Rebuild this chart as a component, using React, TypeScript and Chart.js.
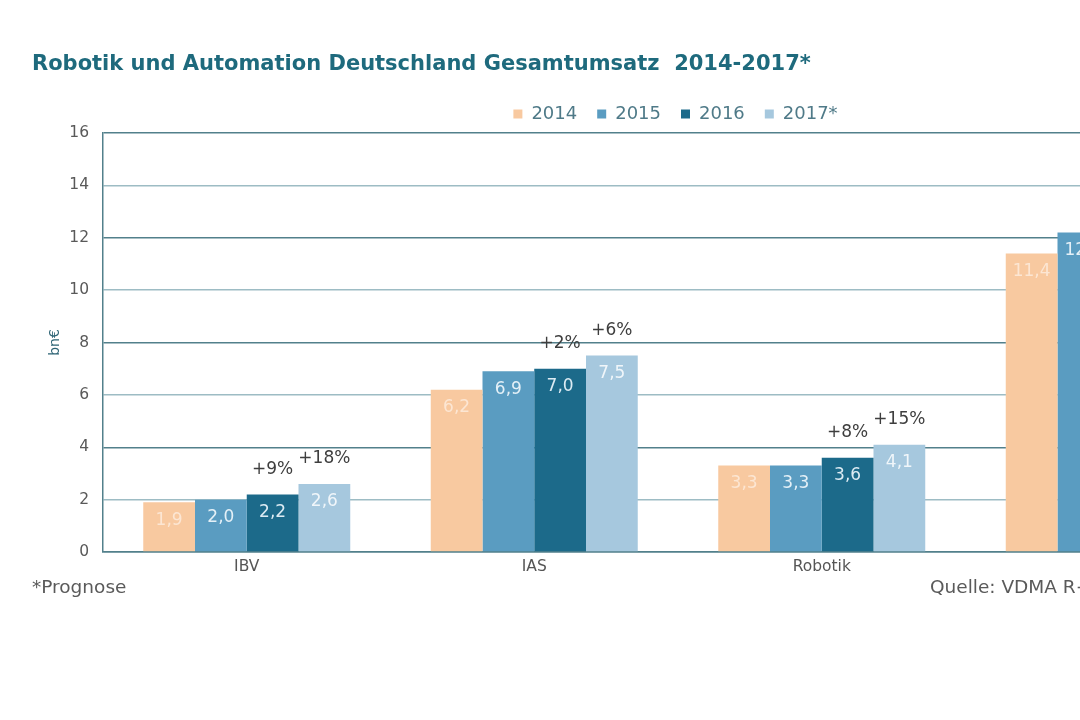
import React, { useEffect, useRef } from 'react';
import { Chart, registerables } from 'chart.js';

Chart.register(...registerables);

// ---- data ----
const categories = ['IBV', 'IAS', 'Robotik', 'R+A'];
const seriesNames = ['2014', '2015', '2016', '2017*'];
const values2014 = [1.9, 6.2, 3.3, 11.4];
const values2015 = [2.0, 6.9, 3.3, 12.2];
const values2016 = [2.2, 7.0, 3.6, 12.8];
const values2017 = [2.6, 7.5, 4.1, 14.2];
const growth2016 = ['+9%', '+2%', '+8%', '+5%'];
const growth2017 = ['+18%', '+6%', '+15%', '+11%'];
const yMin = 0;
const yMax = 16;
const yStep = 2;
const titleText = 'Robotik und Automation Deutschland Gesamtumsatz  2014-2017*';
const yAxisTitle = 'bn€';
const footnoteLeft = '*Prognose';
const footnoteRight = 'Quelle: VDMA R+A';

// ---- styles ----
const FONT = '"DejaVu Sans", Verdana, sans-serif';
const barColors = ['#F8C9A0', '#5A9CC1', '#1C6A8A', '#A6C8DE'];
const valueLabelColors = ['#FCE6D3', '#E4F0F7', '#DCEBF3', '#F0F6FA'];
const gridDark = '#52808B';
const gridLight = '#9DBCC4';

const labelPlugin = {
  id: 'barLabels',
  afterDatasetsDraw(chart: any) {
    const ctx = chart.ctx;
    ctx.save();
    ctx.textAlign = 'center';
    ctx.textBaseline = 'middle';
    ctx.font = `17px ${FONT}`;
    chart.data.datasets.forEach((ds: any, di: number) => {
      const meta = chart.getDatasetMeta(di);
      meta.data.forEach((bar: any, i: number) => {
        const v = ds.data[i] as number;
        ctx.fillStyle = valueLabelColors[di];
        ctx.fillText(v.toFixed(1).replace('.', ','), bar.x, bar.y + 18);
        const g = di === 2 ? growth2016[i] : di === 3 ? growth2017[i] : null;
        if (g) {
          ctx.fillStyle = '#3E3E3E';
          ctx.fillText(g, bar.x, bar.y - 25);
        }
      });
    });
    ctx.restore();
  },
};

export default function App() {
  const canvasRef = useRef<HTMLCanvasElement | null>(null);

  useEffect(() => {
    if (!canvasRef.current) return;
    const seriesValues = [values2014, values2015, values2016, values2017];
    const chart = new Chart(canvasRef.current, {
      type: 'bar',
      data: {
        labels: categories,
        datasets: seriesNames.map((name, i) => ({
          label: name,
          data: seriesValues[i],
          backgroundColor: barColors[i],
          borderWidth: 0,
          categoryPercentage: 0.72,
          barPercentage: 1.0,
          yAxisID: 'y',
        })),
      },
      options: {
        responsive: false,
        animation: false,
        devicePixelRatio: 1,
        layout: { padding: { left: 32, right: 0, top: 0, bottom: 138 } },
        plugins: {
          tooltip: { enabled: false },
          title: {
            display: true,
            text: titleText,
            align: 'start',
            color: '#1E6A7D',
            font: { family: FONT, size: 21, weight: 'bold' },
            padding: { top: 46.4, bottom: 7.9 },
          },
          legend: {
            display: true,
            position: 'top',
            align: 'center',
            labels: {
              boxWidth: 9,
              boxHeight: 9,
              padding: 20,
              color: '#4F7A88',
              font: { family: FONT, size: 18 },
            },
          },
        },
        scales: {
          x: {
            grid: { display: false, drawTicks: false },
            border: { display: true, color: gridDark, width: 1.5 },
            ticks: { color: '#555555', font: { family: FONT, size: 15.5 }, padding: 6 },
            afterFit: (s: any) => {
              s.height = 30;
            },
          },
          y: {
            min: yMin,
            max: yMax,
            position: 'left',
            ticks: {
              stepSize: yStep,
              color: '#595959',
              font: { family: FONT, size: 15.5 },
              padding: 14,
            },
            grid: {
              drawTicks: false,
              color: (c: any) => (c.tick && c.tick.value % 4 === 0 ? gridDark : gridLight),
              lineWidth: 1.5,
            },
            border: { display: true, color: gridDark, width: 1.5 },
            title: {
              display: true,
              text: yAxisTitle,
              color: '#2C6374',
              font: { family: FONT, size: 14 },
              padding: { top: 15, bottom: 0 },
            },
            afterFit: (s: any) => {
              s.width = 71;
              s.paddingTop = 133;
            },
          },
          yr: {
            type: 'linear',
            position: 'right',
            display: true,
            grid: { display: false, drawTicks: false },
            border: { display: false },
            ticks: { display: false },
            afterFit: (s: any) => {
              s.width = 66;
            },
          },
        },
      } as any,
      plugins: [labelPlugin],
    });
    return () => chart.destroy();
  }, []);

  const footStyle: React.CSSProperties = {
    position: 'absolute',
    top: 576,
    font: `18.5px ${FONT}`,
    color: '#5A5A5A',
    whiteSpace: 'nowrap',
  };

  return (
    <div
      style={{
        position: 'fixed',
        left: 0,
        top: 0,
        width: 1080,
        height: 720,
        overflow: 'hidden',
        background: '#ffffff',
      }}
    >
      <canvas
        ref={canvasRef}
        width={1319}
        height={720}
        style={{ position: 'absolute', left: 0, top: 0, width: 1319, height: 720 }}
      />
      <div style={{ ...footStyle, left: 32 }}>{footnoteLeft}</div>
      <div style={{ ...footStyle, left: 930 }}>{footnoteRight}</div>
    </div>
  );
}
